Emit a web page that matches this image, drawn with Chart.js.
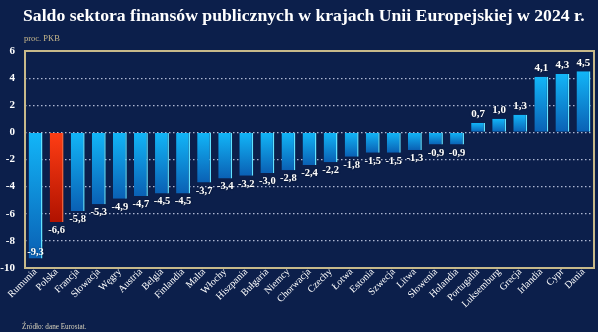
<!DOCTYPE html>
<html lang="pl">
<head>
<meta charset="utf-8">
<script src="https://cdn.jsdelivr.net/npm/chart.js@4/dist/chart.umd.min.js"></script>
<style>
  html, body { margin: 0; padding: 0; background: #0c1f4b; }
  #wrap { position: relative; width: 598px; height: 332px; overflow: hidden; }
  #chart { position: absolute; left: 0; top: 0; }
  .title { position: absolute; left: 23px; top: 5px; color: #fff; font: bold 17.7px "Liberation Serif", serif; white-space: nowrap; }
  .unit { position: absolute; left: 24px; top: 33px; color: #c9b98c; font: 8.5px "Liberation Serif", serif; }
  .source { position: absolute; left: 22px; top: 323px; color: #d8d2bc; font: 7.2px "Liberation Serif", serif; }
</style>
</head>
<body>
<div id="wrap">
  <canvas id="chart" width="598" height="332"></canvas>
  <div class="title">Saldo sektora finansów publicznych w krajach Unii Europejskiej w 2024 r.</div>
  <div class="unit">proc. PKB</div>
  <div class="source">Źródło: dane Eurostat.</div>
</div>
<script>
const countries = ['Rumunia', 'Polska', 'Francja', 'Słowacja', 'Węgry', 'Austria', 'Belgia', 'Finlandia',
  'Malta', 'Włochy', 'Hiszpania', 'Bułgaria', 'Niemcy', 'Chorwacja', 'Czechy', 'Łotwa', 'Estonia',
  'Szwecja', 'Litwa', 'Słowenia', 'Holandia', 'Portugalia', 'Luksemburg', 'Grecja', 'Irlandia', 'Cypr', 'Dania'];
const balance = [-9.3, -6.6, -5.8, -5.3, -4.9, -4.7, -4.5, -4.5, -3.7, -3.4, -3.2, -3.0, -2.8, -2.4,
  -2.2, -1.8, -1.5, -1.5, -1.3, -0.9, -0.9, 0.7, 1.0, 1.3, 4.1, 4.3, 4.5];
const highlight = 'Polska';
const yTicks = [6, 4, 2, 0, -2, -4, -6, -8, -10];

const fmt = v => v.toFixed(1).replace('.', ',');

// vertical gradient for each bar, light at the top, dark at the bottom
function barFill(ctx) {
  const chart = ctx.chart;
  if (!chart.chartArea || ctx.type !== 'data') return '#1aa8ee';
  const y = chart.scales.y;
  const v = ctx.raw;
  const top = y.getPixelForValue(Math.max(v, 0));
  const bottom = y.getPixelForValue(Math.min(v, 0));
  const g = chart.ctx.createLinearGradient(0, top, 0, bottom + 0.01);
  if (countries[ctx.dataIndex] === highlight) {
    g.addColorStop(0, '#ff3d14');
    g.addColorStop(1, '#b01200');
  } else {
    g.addColorStop(0, '#12b6f8');
    g.addColorStop(1, '#0a60b4');
  }
  return g;
}

// gold frame around the plot
const frame = {
  id: 'frame',
  afterDraw(chart) {
    const { ctx, chartArea: a } = chart;
    ctx.save();
    ctx.strokeStyle = '#c7b98a';
    ctx.lineWidth = 2;
    ctx.strokeRect(a.left, a.top, a.right - a.left, a.bottom - a.top);
    ctx.restore();
  }
};

// values printed at the end of each bar
const valueLabels = {
  id: 'valueLabels',
  afterDatasetsDraw(chart) {
    const { ctx, chartArea: a } = chart;
    const meta = chart.getDatasetMeta(0);
    ctx.save();
    ctx.fillStyle = '#fff';
    ctx.textAlign = 'center';
    ctx.shadowColor = 'rgba(0,0,0,0.6)';
    ctx.shadowBlur = 2;
    meta.data.forEach((bar, i) => {
      const v = balance[i];
      let y;
      if (v >= 0) {
        ctx.font = 'bold 11px "Liberation Serif", serif';
        ctx.textBaseline = 'bottom';
        y = bar.y - 3;
      } else {
        ctx.font = 'bold 10.5px "Liberation Serif", serif';
        ctx.textBaseline = 'top';
        y = bar.y + 3;
        if (y + 11 > a.bottom) y = bar.y - 11;
      }
      ctx.fillText(fmt(v), bar.x, y);
    });
    ctx.restore();
  }
};

new Chart(document.getElementById('chart'), {
  type: 'bar',
  data: {
    labels: countries,
    datasets: [{
      data: balance,
      backgroundColor: barFill,
      borderColor: ctx => countries[ctx.dataIndex] === highlight ? '#ff6a3c' : '#62e2ff',
      borderWidth: { left: 0, right: 1.5, top: 0, bottom: 0 },
      borderSkipped: false,
      categoryPercentage: 1,
      barPercentage: 0.66
    }]
  },
  options: {
    responsive: false,
    animation: false,
    layout: { padding: { top: 51, right: 4, left: 0, bottom: 0 } },
    plugins: { legend: { display: false }, tooltip: { enabled: false } },
    scales: {
      x: {
        grid: { display: false },
        border: { display: false },
        ticks: {
          color: '#fff',
          font: { family: '"Liberation Serif", serif', size: 10 },
          minRotation: 45,
          maxRotation: 45,
          padding: -10,
          autoSkip: false
        },
        afterFit(scale) { scale.height = 64; }
      },
      y: {
        min: -10,
        max: 6,
        afterBuildTicks(scale) { scale.ticks = yTicks.map(v => ({ value: v })); },
        grid: {
          color: 'rgba(205,212,235,0.85)',
          lineWidth: 1.2,
          drawTicks: false
        },
        border: { display: false, dash: [1.5, 2.5] },
        ticks: {
          color: '#fff',
          font: { family: '"Liberation Serif", serif', size: 11, weight: 'bold' },
          padding: 10,
          callback: v => String(v)
        },
        afterFit(scale) { scale.width = 25; }
      }
    }
  },
  plugins: [frame, valueLabels]
});
</script>
</body>
</html>
